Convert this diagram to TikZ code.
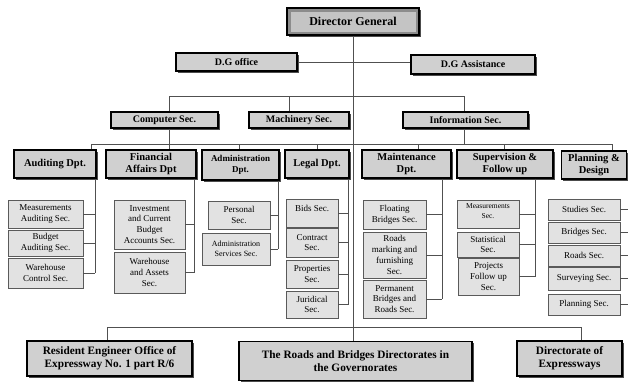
\documentclass[tikz,border=0pt]{standalone}
\usepackage{fontspec}
\setmainfont{Liberation Serif}
\usetikzlibrary{shadows,calc}
\definecolor{boxfill}{RGB}{208,208,208}
\definecolor{secfill}{RGB}{226,226,226}
\definecolor{linec}{RGB}{80,80,80}
\definecolor{secborder}{RGB}{90,90,90}
\definecolor{dgband}{RGB}{140,140,140}
\definecolor{dgfill}{RGB}{196,196,196}
\begin{document}
\begin{tikzpicture}[x=1pt,y=-1pt,
  every node/.style={inner sep=1pt, align=center},
  mainbox/.style={draw=black, line width=1.4pt, fill=boxfill,
    drop shadow={shadow xshift=1.6pt, shadow yshift=-1.6pt, fill=black!70, opacity=1}},
  topfont/.style={font=\bfseries\fontsize{10}{12}\selectfont},
  deptfont/.style={font=\bfseries\fontsize{10.5}{11.5}\selectfont},
  botfont/.style={font=\bfseries\fontsize{11.3}{13}\selectfont},
  secbox/.style={draw=secborder, line width=0.9pt, fill=secfill,
    drop shadow={shadow xshift=1pt, shadow yshift=-1pt, fill=black!45, opacity=1},
    font=\fontsize{9}{10.8}\selectfont},
  dgbox/.style={draw=black, line width=1.8pt, fill=dgfill,
    drop shadow={shadow xshift=1.6pt, shadow yshift=-1.6pt, fill=black!70, opacity=1},
    path picture={\draw[dgband, line width=7pt] (path picture bounding box.south west) rectangle (path picture bounding box.north east);},
    font=\bfseries\fontsize{12}{14}\selectfont},
  conn/.style={draw=linec, line width=0.9pt}
]
\fill[white] (0,0) rectangle (628,381);
\useasboundingbox (0,0) rectangle (628,381);

% ---------- top ----------
\node[dgbox, minimum width=132pt, minimum height=27pt] (dg) at (353,21.5) {Director General};
\node[mainbox, topfont, minimum width=121pt, minimum height=18pt] (dgo) at (236.5,62) {D.G office};
\node[mainbox, topfont, minimum width=124pt, minimum height=19pt] (dga) at (473,64.5) {D.G Assistance};

\node[mainbox, topfont, minimum width=107pt, minimum height=16pt] (comp) at (164.5,120) {Computer Sec.};
\node[mainbox, topfont, minimum width=100pt, minimum height=16pt] (mach) at (299,120) {Machinery Sec.};
\node[mainbox, topfont, minimum width=125pt, minimum height=16pt] (info) at (465.5,120) {Information Sec.};

% ---------- departments ----------
\node[mainbox, deptfont, minimum width=82pt, minimum height=28pt] (aud) at (55,164) {Auditing Dpt.};
\node[mainbox, deptfont, minimum width=90pt, minimum height=28pt] (fin) at (151,164) {Financial\\Affairs Dpt};
\node[mainbox, font=\bfseries\fontsize{9}{11}\selectfont, minimum width=77pt, minimum height=30pt] (adm) at (240.5,165) {Administration\\Dpt.};
\node[mainbox, deptfont, minimum width=64pt, minimum height=28pt] (leg) at (317,164) {Legal Dpt.};
\node[mainbox, deptfont, minimum width=89pt, minimum height=28pt] (mnt) at (406.5,164) {Maintenance\\Dpt.};
\node[mainbox, deptfont, minimum width=96pt, minimum height=28pt] (sup) at (505,164) {Supervision \&\\Follow up};
\node[mainbox, deptfont, minimum width=65pt, minimum height=28pt] (pln) at (594,165) {Planning \&\\Design};

% ---------- sections ----------
\node[secbox, minimum width=75pt, minimum height=28pt] (a1) at (45.5,214) {Measurements\\Auditing Sec.};
\node[secbox, minimum width=75pt, minimum height=26pt] (a2) at (45.5,243) {Budget\\Auditing Sec.};
\node[secbox, minimum width=75pt, minimum height=30pt] (a3) at (45.5,273) {Warehouse\\Control Sec.};

\node[secbox, minimum width=71pt, minimum height=49pt] (f1) at (149.5,224.5) {Investment\\and Current\\Budget\\Accounts Sec.};
\node[secbox, minimum width=71pt, minimum height=41pt] (f2) at (149.5,272.5) {Warehouse\\and Assets\\Sec.};

\node[secbox, minimum width=62pt, minimum height=28pt] (d1) at (239,215) {Personal\\Sec.};
\node[secbox, font=\fontsize{8}{10}\selectfont, minimum width=68pt, minimum height=32pt] (d2) at (236,249) {Administration\\Services Sec.};

\node[secbox, minimum width=52pt, minimum height=28pt] (l1) at (312,213) {Bids Sec.\\[-2pt]};
\node[secbox, minimum width=52pt, minimum height=29pt] (l2) at (312,242.5) {Contract\\Sec.};
\node[secbox, minimum width=52pt, minimum height=28pt] (l3) at (312,274) {Properties\\Sec.};
\node[secbox, minimum width=52pt, minimum height=27pt] (l4) at (312,304.5) {Juridical\\Sec.};

\node[secbox, minimum width=63pt, minimum height=29pt] (m1) at (394.5,214.5) {Floating\\Bridges Sec.};
\node[secbox, minimum width=63pt, minimum height=46pt] (m2) at (394.5,255) {Roads\\marking and\\furnishing\\Sec.};
\node[secbox, minimum width=63pt, minimum height=38pt] (m3) at (394.5,299) {Permanent\\Bridges and\\Roads Sec.};

\node[secbox, font=\fontsize{7.5}{10}\selectfont, minimum width=62pt, minimum height=28pt] (s1) at (488,214) {Measurements\\Sec.\\[-5pt]};
\node[secbox, minimum width=62pt, minimum height=25pt] (s2) at (488,244.5) {Statistical\\Sec.};
\node[secbox, minimum width=61pt, minimum height=37pt] (s3) at (488.5,276.5) {Projects\\Follow up\\Sec.};

\node[secbox, minimum width=72pt, minimum height=21pt] (p1) at (584,209.5) {Studies Sec.};
\node[secbox, minimum width=72pt, minimum height=21pt] (p2) at (584,232.5) {Bridges Sec.};
\node[secbox, minimum width=72pt, minimum height=21pt] (p3) at (584,255.5) {Roads Sec.};
\node[secbox, minimum width=72pt, minimum height=23pt] (p4) at (584,278.5) {Surveying Sec.};
\node[secbox, minimum width=72pt, minimum height=21pt] (p5) at (584,304.5) {Planning Sec.};

% ---------- bottom ----------
\node[mainbox, botfont, minimum width=165pt, minimum height=35pt] (res) at (109.5,358.5) {Resident Engineer Office of\\Expressway No. 1 part R/6};
\node[mainbox, botfont, minimum width=233pt, minimum height=39pt] (mid) at (355.5,361) {The Roads and Bridges Directorates in\\the Governorates};
\node[mainbox, botfont, minimum width=105pt, minimum height=35pt] (dex) at (569.5,358.5) {Directorate of\\Expressways};

% ---------- connectors ----------
\draw[conn] (dg.south) -- (dg.south |- mid.north);
\draw[conn] (dgo.east) -- (dgo.east -| dga.west);

\coordinate (b1l) at (169,96);
\coordinate (b1m) at (289,96);
\coordinate (b1r) at (464,96);
\draw[conn] (b1l) -- (b1r);
\draw[conn] (b1l) -- (b1l |- comp.north);
\draw[conn] (b1m) -- (b1m |- mach.north);
\draw[conn] (b1r) -- (b1r |- info.north);

\coordinate (b2l) at (91,144);
\coordinate (b2f) at (169,144);
\coordinate (b2a) at (239,144);
\coordinate (b2g) at (317,144);
\coordinate (b2m) at (418,144);
\coordinate (b2s) at (504,144);
\coordinate (b2r) at (612,144);
\draw[conn] (b2l) -- (b2r);
\draw[conn] (b2l) -- (b2l |- aud.north);
\draw[conn] (b1l |- comp.south) -- (b2f |- fin.north);
\draw[conn] (b2a) -- (b2a |- adm.north);
\draw[conn] (b2g) -- (b2g |- leg.north);
\draw[conn] (b2m) -- (b2m |- mnt.north);
\draw[conn] (b2s) -- (b2s |- sup.north);
\draw[conn] (b2r) -- (b2r |- pln.north);
\draw[conn] (b1r |- info.south) -- (b2r -| b1r);

% spines
\coordinate (sa) at (95,0);
\draw[conn] (sa |- aud.south) -- (sa |- a3.east);
\foreach \n in {a1,a2,a3} \draw[conn] (\n.east) -- (\n.east -| sa);

\coordinate (sf) at (194,0);
\draw[conn] (sf |- fin.south) -- (sf |- f2.east);
\foreach \n in {f1,f2} \draw[conn] (\n.east) -- (\n.east -| sf);

\coordinate (sd) at (278,0);
\draw[conn] (sd |- adm.south) -- (sd |- d2.east);
\foreach \n in {d1,d2} \draw[conn] (\n.east) -- (\n.east -| sd);

\coordinate (sl) at (348,0);
\draw[conn] (sl |- leg.south) -- (sl |- l4.east);
\foreach \n in {l1,l2,l3,l4} \draw[conn] (\n.east) -- (\n.east -| sl);

\coordinate (sm) at (442,0);
\draw[conn] (sm |- mnt.south) -- (sm |- m3.east);
\foreach \n in {m1,m2,m3} \draw[conn] (\n.east) -- (\n.east -| sm);

\coordinate (ss) at (535,0);
\draw[conn] (ss |- sup.south) -- (ss |- s3.east);
\foreach \n in {s1,s2,s3} \draw[conn] (\n.east) -- (\n.east -| ss);

\coordinate (sp) at (628,0);
\foreach \n in {p1,p2,p3,p4,p5} \draw[conn] (\n.east) -- (\n.east -| sp);

% bottom bus
\coordinate (b3l) at (107,327);
\coordinate (b3r) at (581,327);
\draw[conn] (b3l) -- (b3r);
\draw[conn] (b3l) -- (b3l |- res.north);
\draw[conn] (b3r) -- (b3r |- dex.north);
\end{tikzpicture}
\end{document}
